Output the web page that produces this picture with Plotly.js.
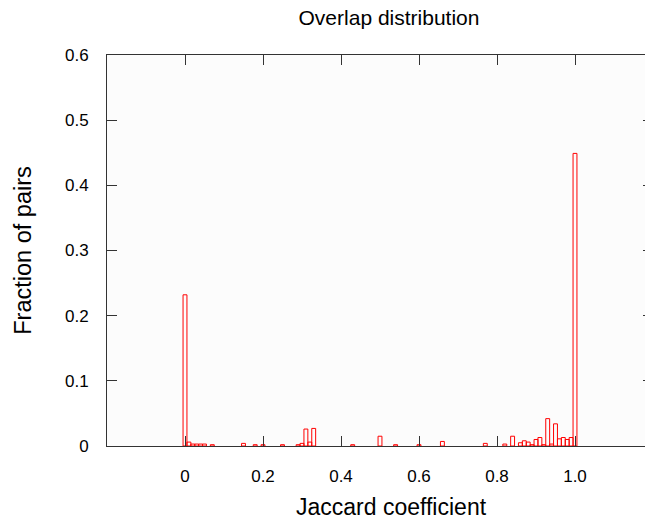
<!DOCTYPE html>
<html>
<head>
<meta charset="utf-8">
<script src="https://cdn.plot.ly/plotly-3.0.1.min.js"></script>
<style>
  html, body { margin: 0; padding: 0; background: #ffffff; overflow: hidden; }
  #chart { width: 660px; height: 524px; }
</style>
</head>
<body>
<div id="chart"></div>
<script>
// Histogram of Jaccard coefficients, bins of width 0.01 (bin centres)
const binCentres = [
  0.00, 0.01, 0.02, 0.03, 0.04, 0.05, 0.07, 0.15, 0.18, 0.20,
  0.25, 0.29, 0.30, 0.31, 0.32, 0.33, 0.43, 0.50, 0.54, 0.60,
  0.66, 0.77, 0.82, 0.84, 0.86, 0.87, 0.88, 0.89, 0.90, 0.91,
  0.92, 0.93, 0.94, 0.95, 0.96, 0.97, 0.98, 0.99, 1.00
];
const fractionOfPairs = [
  0.232, 0.006, 0.003, 0.003, 0.003, 0.003, 0.002, 0.004, 0.002, 0.002,
  0.002, 0.002, 0.004, 0.026, 0.006, 0.027, 0.002, 0.015, 0.002, 0.002,
  0.007, 0.004, 0.003, 0.015, 0.005, 0.008, 0.006, 0.002, 0.010, 0.013,
  0.002, 0.042, 0.003, 0.034, 0.011, 0.013, 0.010, 0.013, 0.449
];
const binWidth = 0.01;

const xTickVals = [0, 0.2, 0.4, 0.6, 0.8, 1.0];
const xTickText = ["0", "0.2", "0.4", "0.6", "0.8", "1.0"];
const yTickVals = [0, 0.1, 0.2, 0.3, 0.4, 0.5, 0.6];
const yTickText = ["0", "0.1", "0.2", "0.3", "0.4", "0.5", "0.6"];

const FONT = '"Liberation Sans", Arial, Helvetica, sans-serif';
const AXIS = '#333333';

// Unfilled boxes with a red outline, one per bin
const trace = {
  type: 'bar',
  x: binCentres,
  y: fractionOfPairs,
  width: binCentres.map(() => binWidth),
  marker: {
    color: 'rgba(255,0,0,0)',
    line: { color: '#ff0000', width: 1 }
  },
  hoverinfo: 'x+y'
};

const axisCommon = {
  showgrid: false,
  zeroline: false,
  showline: true,
  linecolor: AXIS,
  linewidth: 1,
  mirror: 'ticks',
  ticks: 'inside',
  ticklen: 10,
  tickwidth: 1,
  tickcolor: AXIS,
  tickfont: { family: FONT, size: 17, color: '#000000' }
};

const layout = {
  width: 660,
  height: 524,
  margin: { l: 107, r: 7, t: 55, b: 78, pad: 0 },
  paper_bgcolor: '#ffffff',
  plot_bgcolor: '#fcfcfc',
  showlegend: false,
  bargap: 0,
  title: {
    text: 'Overlap distribution',
    font: { family: FONT, size: 21, color: '#000000' },
    xref: 'container', x: 389 / 660, xanchor: 'center',
    yref: 'container', y: 1 - 18 / 524, yanchor: 'middle'
  },
  xaxis: Object.assign({}, axisCommon, {
    range: [-0.2, 1.2],
    tickmode: 'array',
    tickvals: xTickVals,
    ticktext: xTickText,
    ticklabelstandoff: 15
  }),
  yaxis: Object.assign({}, axisCommon, {
    range: [0, 0.6],
    tickmode: 'array',
    tickvals: yTickVals,
    ticktext: yTickText,
    ticklabelstandoff: 14,
    title: {
      text: 'Fraction of pairs',
      font: { family: FONT, size: 23.5, color: '#000000' },
      standoff: 26
    }
  }),
  annotations: [{
    text: 'Jaccard coefficient',
    xref: 'paper', yref: 'paper',
    x: (391 - 107) / 546, y: (446 - 507) / 391,
    xanchor: 'center', yanchor: 'middle',
    showarrow: false,
    font: { family: FONT, size: 23, color: '#000000' }
  }]
};

Plotly.newPlot('chart', [trace], layout, { displayModeBar: false, staticPlot: true });
</script>
</body>
</html>
